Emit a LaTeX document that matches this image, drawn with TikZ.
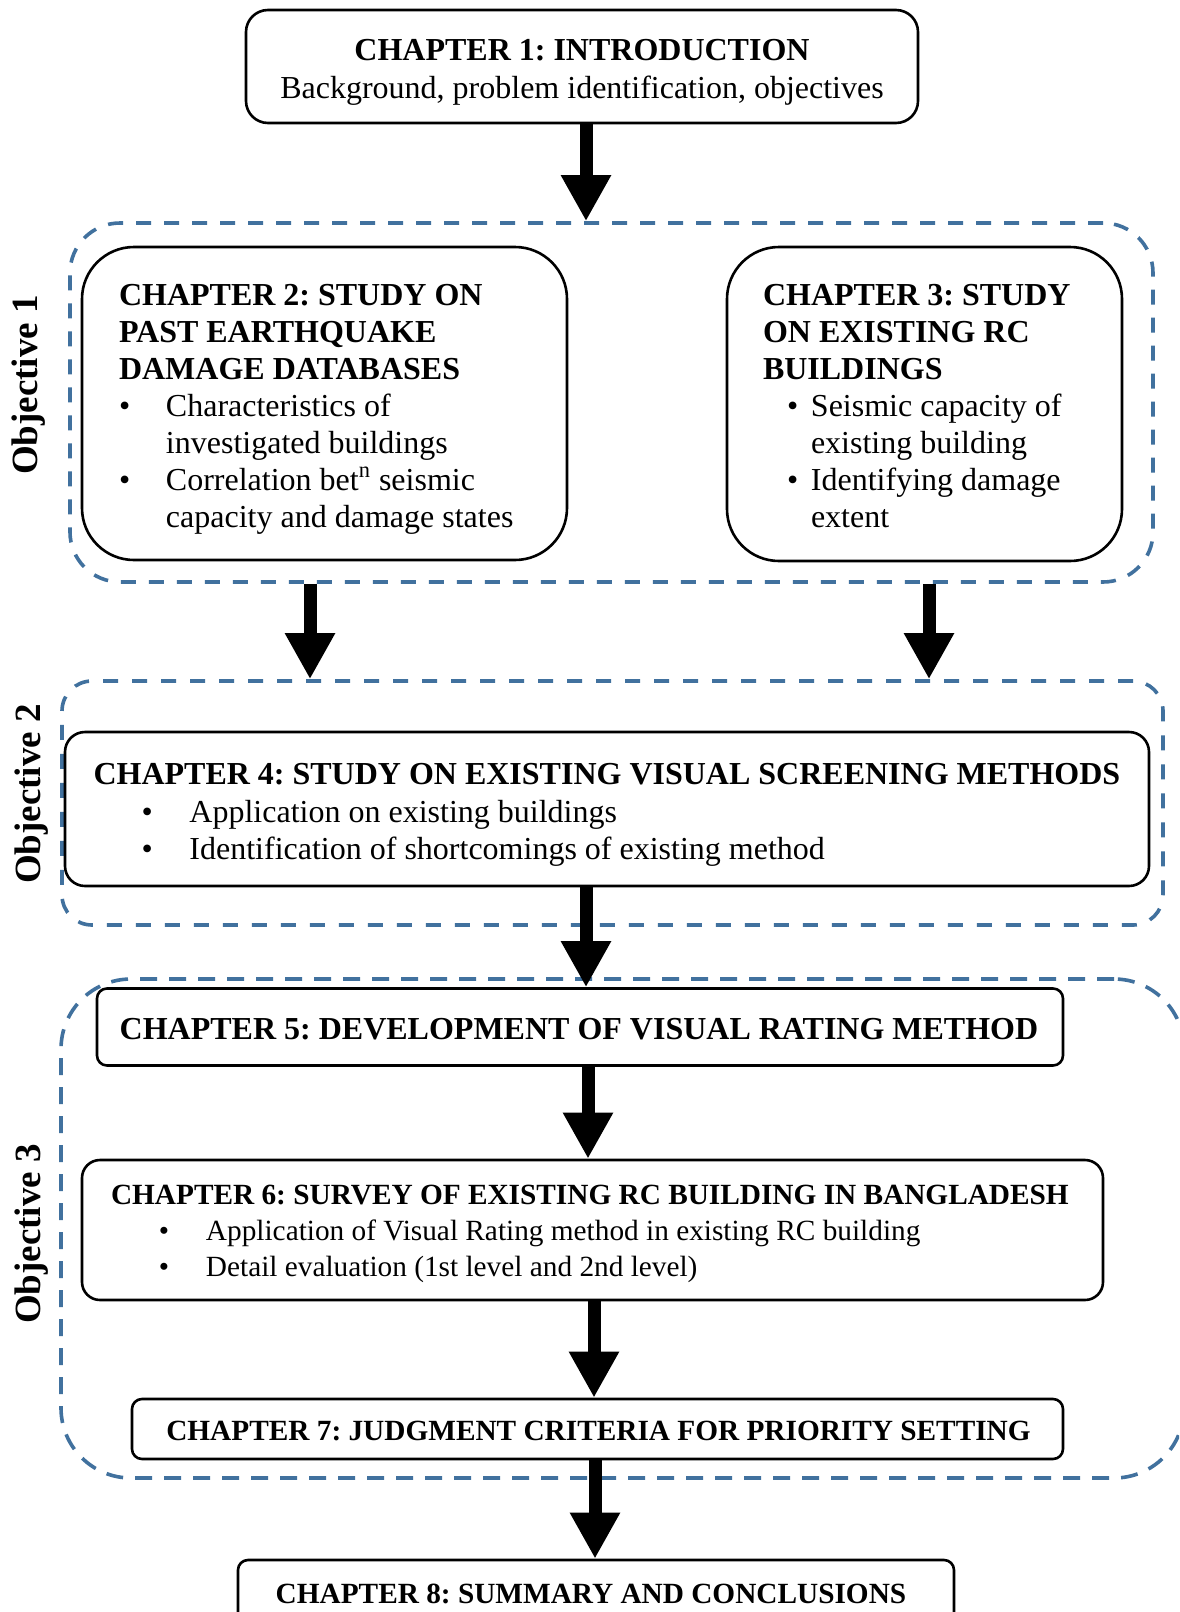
\documentclass[tikz,border=0pt]{standalone}
\usepackage{fontspec}
\setmainfont{Liberation Serif}
\usetikzlibrary{arrows.meta}
\definecolor{objblue}{RGB}{65,113,158}
\begin{document}
\frenchspacing
\begin{tikzpicture}[x=0.5pt,y=-0.5pt,
  chbox/.style={draw=black, line width=1.3pt, fill=white, inner sep=0pt},
  txt/.style={inner sep=0pt, text=black},
  objbox/.style={draw=objblue, line width=1.8pt, inner sep=0pt},
  objlabel/.style={rotate=90, font=\fontsize{18.5pt}{20pt}\selectfont\bfseries, inner sep=0pt},
  bigarrow/.style={line width=6.5pt, -{Triangle[width=23.5pt,length=23pt]}},
  bigfont/.style={font=\fontsize{16pt}{18.5pt}\selectfont},
  smallfont/.style={font=\fontsize{14.65pt}{18pt}\selectfont}
]
\useasboundingbox (0,0) rectangle (1179,1612);
\clip (0,0) rectangle (1179,1612);
\fill[white] (0,0) rectangle (1179,1612);

% objective frames
\node[objbox, rounded corners=25pt, dash pattern=on 7.5pt off 6.5pt,
  minimum width=541.5pt, minimum height=179.5pt] (obj1) at (611.5,402.5) {};
\node[objbox, rounded corners=15pt, dash pattern=on 7.5pt off 7pt,
  minimum width=550.5pt, minimum height=122pt] (obj2) at (612.5,803) {};
\node[objbox, rounded corners=35pt, dash pattern=on 8.5pt off 6pt,
  minimum width=561.5pt, minimum height=249.5pt] (obj3) at (622.5,1228.5) {};

\node[objlabel] (lab1) at (29,385) {Objective 1};
\node[objlabel] (lab2) at (32,794) {Objective 2};
\node[objlabel] (lab3) at (32,1234) {Objective 3};

% chapter boxes
\node[chbox, rounded corners=11pt, minimum width=336pt, minimum height=56.5pt] (ch1) at (582,66.5) {};
\node[chbox, rounded corners=26pt, minimum width=242.5pt, minimum height=156.5pt] (ch2) at (324.5,403.5) {};
\node[chbox, rounded corners=26pt, minimum width=197.5pt, minimum height=157pt] (ch3) at (924.5,404) {};
\node[chbox, rounded corners=10pt, minimum width=542pt, minimum height=77pt] (ch4) at (607,809) {};
\node[chbox, rounded corners=5pt, minimum width=483pt, minimum height=38.5pt] (ch5) at (580,1027) {};
\node[chbox, rounded corners=9pt, minimum width=510.5pt, minimum height=70pt] (ch6) at (592.5,1230) {};
\node[chbox, rounded corners=5pt, minimum width=465.5pt, minimum height=30pt] (ch7) at (597.5,1429) {};
\node[chbox, rounded corners=5pt, minimum width=358pt, minimum height=32pt] (ch8) at (596,1592) {};

% chapter texts
\node[txt, font=\fontsize{16pt}{19pt}\selectfont, align=center] (t1) at (582,72)
  {\textbf{CHAPTER 1: INTRODUCTION}\\Background, problem identification, objectives};

\node[txt, bigfont, align=flush left, text width=205.5pt] (t2) at (324.5,409)
  {\textbf{CHAPTER 2: STUDY ON}\\
   \textbf{PAST EARTHQUAKE}\\
   \textbf{DAMAGE DATABASES}\\
   \makebox[23.5pt][l]{\textbullet}Characteristics of\\
   \hspace*{23.5pt}investigated buildings\\
   \makebox[23.5pt][l]{\textbullet}Correlation bet\textsuperscript{n} seismic\\
   \hspace*{23.5pt}capacity and damage states};

\node[txt, bigfont, align=flush left, text width=161.5pt] (t3) at (924.5,406.5)
  {\textbf{CHAPTER 3: STUDY}\\
   \textbf{ON EXISTING RC}\\
   \textbf{BUILDINGS}\\
   \hspace*{12pt}\makebox[12pt][l]{\textbullet}Seismic capacity of\\
   \hspace*{24pt}existing building\\
   \hspace*{12pt}\makebox[12pt][l]{\textbullet}Identifying damage\\
   \hspace*{24pt}extent};

\node[txt, font=\fontsize{16pt}{18.75pt}\selectfont, align=flush left, text width=516pt] (t4) at (609.5,815)
  {\textbf{CHAPTER 4: STUDY ON EXISTING VISUAL SCREENING METHODS}\\
   \hspace*{24pt}\makebox[24pt][l]{\textbullet}Application on existing buildings\\
   \hspace*{24pt}\makebox[24pt][l]{\textbullet}Identification of shortcomings of existing method};

\node[txt, bigfont] (t5) at (579,1029.5)
  {\textbf{CHAPTER 5: DEVELOPMENT OF VISUAL RATING METHOD}};

\node[txt, smallfont, align=flush left, text width=482pt] (t6) at (593,1233.5)
  {\textbf{CHAPTER 6: SURVEY OF EXISTING RC BUILDING IN BANGLADESH}\\
   \hspace*{24pt}\makebox[23.5pt][l]{\textbullet}Application of Visual Rating method in existing RC building\\
   \hspace*{24pt}\makebox[23.5pt][l]{\textbullet}Detail evaluation (1st level and 2nd level)};

\node[txt, smallfont] (t7) at (598.5,1431)
  {\textbf{CHAPTER 7: JUDGMENT CRITERIA FOR PRIORITY SETTING}};

\node[txt, smallfont] (t8) at (591,1594)
  {\textbf{CHAPTER 8: SUMMARY AND CONCLUSIONS}};

% arrow x positions
\coordinate (a1) at (586,0);
\coordinate (a2) at (310,0);
\coordinate (a3) at (929,0);
\coordinate (a4) at (586,0);
\coordinate (a5) at (588,0);
\coordinate (a6) at (594,0);
\coordinate (a7) at (595,0);

\draw[bigarrow] (ch1.south -| a1) -- (obj1.north -| a1);
\draw[bigarrow] (obj1.south -| a2) -- (obj2.north -| a2);
\draw[bigarrow] (obj1.south -| a3) -- (obj2.north -| a3);
\draw[bigarrow] (ch4.south -| a4) -- (ch5.north -| a4);
\draw[bigarrow] (ch5.south -| a5) -- (ch6.north -| a5);
\draw[bigarrow] (ch6.south -| a6) -- (ch7.north -| a6);
\draw[bigarrow] (ch7.south -| a7) -- (ch8.north -| a7);
\end{tikzpicture}
\end{document}
